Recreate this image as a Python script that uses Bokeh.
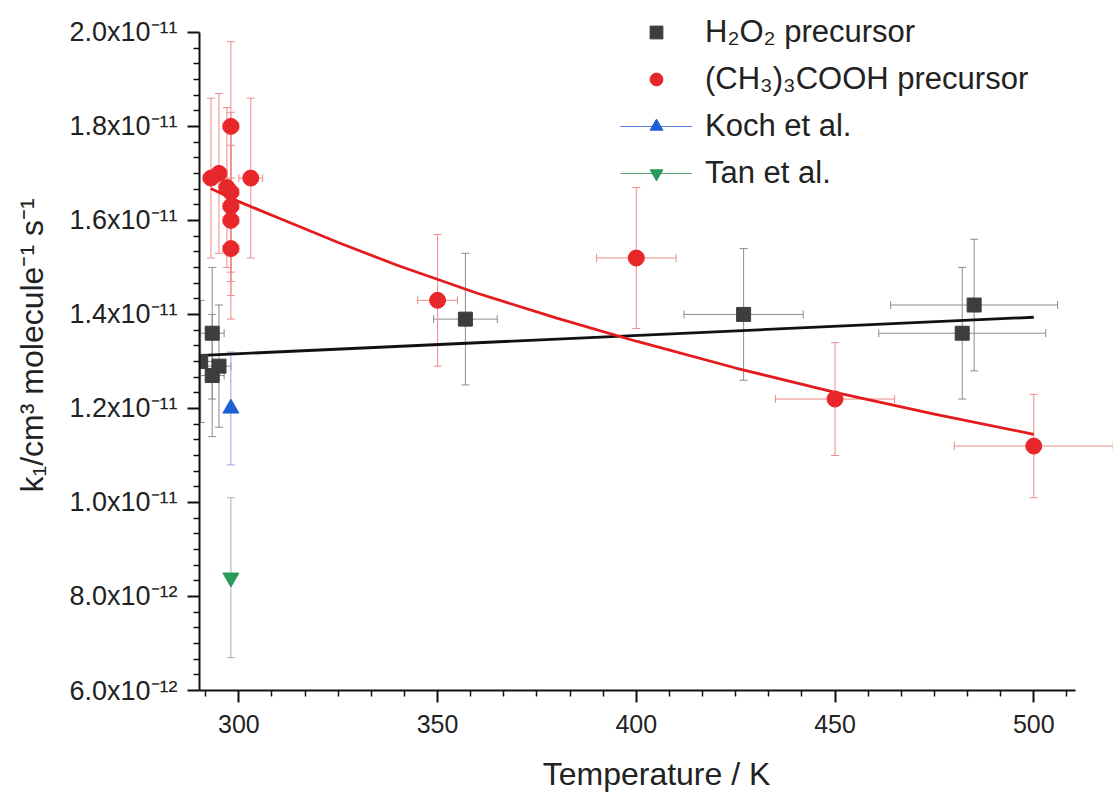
from bokeh.plotting import figure
from bokeh.models import (Range1d, FixedTicker, CustomJSTickFormatter, Whisker, TeeHead,
                          ColumnDataSource, Legend, LegendItem)
from bokeh.embed import file_html
from bokeh.resources import INLINE

# ---------------- data (k1 in units of 1e-11 cm3 molecule-1 s-1) ----------------
h2o2_T = [290.4, 293.3, 293.3, 295.0, 357.0, 427.0, 482.0, 485.0]
h2o2_k = [1.30, 1.36, 1.27, 1.29, 1.39, 1.40, 1.36, 1.42]
h2o2_dk = [0.13, 0.14, 0.13, 0.13, 0.14, 0.14, 0.14, 0.14]
h2o2_dT = [3, 3, 3, 3, 8, 15, 21, 21]

tb_T = [293.0, 295.0, 297.0, 298.0, 298.0, 298.0, 298.0, 298.0, 303.0, 350.0, 400.0, 450.0, 500.0]
tb_k = [1.69, 1.70, 1.67, 1.66, 1.63, 1.60, 1.54, 1.80, 1.69, 1.43, 1.52, 1.22, 1.12]
tb_dk = [0.17, 0.17, 0.17, 0.17, 0.16, 0.16, 0.15, 0.18, 0.17, 0.14, 0.15, 0.12, 0.11]
tb_dT = [2, 2, 2, 2, 2, 2, 2, 2, 3, 5, 10, 15, 20]

koch_T = [298.0]
koch_k = [1.20]
koch_dk = [0.12]

tan_T = [298.0]
tan_k = [0.84]
tan_dk = [0.17]

fit_h2o2_T = [291.0, 500.0]
fit_h2o2_k = [1.313, 1.394]

fit_tb_T = [292.9, 300, 310, 325, 340, 360, 380, 400, 425, 450, 475, 500]
fit_tb_k = [1.668, 1.640, 1.605, 1.553, 1.504, 1.445, 1.392, 1.343, 1.286, 1.234, 1.188, 1.145]

x_major = [300, 350, 400, 450, 500]
y_major = [0.6, 0.8, 1.0, 1.2, 1.4, 1.6, 1.8, 2.0]

FONT = "Liberation Sans"


def src(T, k, dk, dT=None):
    d = dict(T=T, k=k,
             k_lo=[a - b for a, b in zip(k, dk)],
             k_hi=[a + b for a, b in zip(k, dk)])
    if dT is not None:
        d["T_lo"] = [a - b for a, b in zip(T, dT)]
        d["T_hi"] = [a + b for a, b in zip(T, dT)]
    return ColumnDataSource(d)


s_h2o2 = src(h2o2_T, h2o2_k, h2o2_dk, h2o2_dT)
s_tb = src(tb_T, tb_k, tb_dk, tb_dT)
s_koch = src(koch_T, koch_k, koch_dk)
s_tan = src(tan_T, tan_k, tan_dk)

# frame: x 199..1113, y 0..693 ; axis bounds keep the drawn axes to the reference extent
p = figure(width=1113, height=794, output_backend="svg", toolbar_location=None,
           x_range=Range1d(290.1, 520.06), y_range=Range1d(0.6, 2.0678),
           min_border_left=199, min_border_right=0, min_border_top=0, min_border_bottom=101)
p.outline_line_color = None
p.xgrid.visible = False
p.ygrid.visible = False
p.background_fill_color = "white"


def whiskers(source, color, horiz=True, cap=8):
    vh = Whisker(source=source, base="T", lower="k_lo", upper="k_hi", dimension="height",
                 line_color=color, line_width=1,
                 lower_head=TeeHead(size=cap, line_color=color, line_width=1),
                 upper_head=TeeHead(size=cap, line_color=color, line_width=1))
    p.add_layout(vh)
    if horiz:
        wh = Whisker(source=source, base="k", lower="T_lo", upper="T_hi", dimension="width",
                     line_color=color, line_width=1,
                     lower_head=TeeHead(size=cap, line_color=color, line_width=1),
                     upper_head=TeeHead(size=cap, line_color=color, line_width=1))
        p.add_layout(wh)


whiskers(s_h2o2, "#8c8c8c")
whiskers(s_tb, "#ee8a8a")
whiskers(s_koch, "#93a9e2", horiz=False)
whiskers(s_tan, "#9fb9aa", horiz=False)

p.line(fit_h2o2_T, fit_h2o2_k, line_color="#111111", line_width=2.8)
p.line(fit_tb_T, fit_tb_k, line_color="#e41a1c", line_width=2.8)

r_sq = p.scatter("T", "k", source=s_h2o2, marker="square", size=14,
                 fill_color="#3d3d3d", line_color="#3d3d3d")
r_ci = p.scatter("T", "k", source=s_tb, marker="circle", size=16,
                 fill_color="#e8272b", line_color="#e8272b")
r_koch_l = p.line("T", "k", source=s_koch, line_color="#4f7fd6", line_width=1.2)
r_koch = p.scatter("T", "k", source=s_koch, marker="triangle", size=16,
                   fill_color="#1f5fd6", line_color="#1f5fd6")
r_tan_l = p.line("T", "k", source=s_tan, line_color="#5aa878", line_width=1.2)
r_tan = p.scatter("T", "k", source=s_tan, marker="inverted_triangle", size=16,
                  fill_color="#2a9a5a", line_color="#2a9a5a")

# ---------------- axes ----------------
minor_x = [300 + i * 50 / 6 for i in range(-1, 26) if i % 6 != 0]
minor_y = [0.6 + i * 0.2 / 6 for i in range(0, 43) if i % 6 != 0]

xa = p.xaxis[0]
ya = p.yaxis[0]
xa.ticker = FixedTicker(ticks=x_major, minor_ticks=minor_x)
ya.ticker = FixedTicker(ticks=y_major, minor_ticks=minor_y)
xa.bounds = (290.1, 510.5)
ya.bounds = (0.6, 2.0)
ya.formatter = CustomJSTickFormatter(code="""
const sup = {'0':'\u2070','1':'\u00b9','2':'\u00b2','3':'\u00b3','4':'\u2074','5':'\u2075',
             '6':'\u2076','7':'\u2077','8':'\u2078','9':'\u2079','-':'\u207b'};
const e = tick >= 0.999 ? -11 : -12;
const m = e === -11 ? tick : tick * 10;
return m.toFixed(1) + 'x10' + String(e).split('').map(c => sup[c]).join('');
""")

for ax in (xa, ya):
    ax.axis_line_width = 2
    ax.axis_line_color = "#111111"
    ax.major_tick_line_width = 2
    ax.major_tick_line_color = "#111111"
    ax.minor_tick_line_width = 1.5
    ax.minor_tick_line_color = "#111111"
    ax.major_tick_out = 12
    ax.major_tick_in = 0
    ax.minor_tick_out = 6
    ax.minor_tick_in = 0
    ax.major_label_text_font = FONT
    ax.major_label_text_color = "#222222"
    ax.axis_label_text_font = FONT
    ax.axis_label_text_font_size = "32px"
    ax.axis_label_text_font_style = "normal"
    ax.axis_label_text_color = "#222222"

xa.major_label_text_font_size = "25px"
ya.major_label_text_font_size = "27px"
xa.major_label_standoff = 12
ya.major_label_standoff = 10

xa.axis_label = "Temperature / K"
xa.axis_label_standoff = 20

ya.axis_label = "k\u2081/cm\u00b3 molecule\u207b\u00b9 s\u207b\u00b9"
ya.axis_label_standoff = 16

# ---------------- legend ----------------
legend = Legend(items=[
    LegendItem(label="H\u2082O\u2082 precursor", renderers=[r_sq]),
    LegendItem(label="(CH\u2083)\u2083COOH precursor", renderers=[r_ci]),
    LegendItem(label="Koch et al.", renderers=[r_koch_l, r_koch]),
    LegendItem(label="Tan et al.", renderers=[r_tan_l, r_tan]),
], location=(421, 494), glyph_width=72, glyph_height=32, label_height=47,
    label_standoff=13, spacing=0, padding=0, margin=0,
    border_line_color=None, background_fill_alpha=0,
    label_text_font=FONT, label_text_font_size="31px", label_text_color="#222222")
p.add_layout(legend)

open("out.html", "w").write(file_html(p, INLINE))
